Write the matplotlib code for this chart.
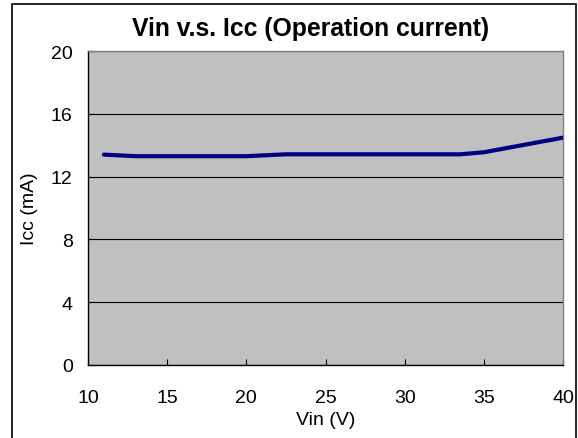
import matplotlib
matplotlib.use("Agg")
import matplotlib.pyplot as plt
from matplotlib.patches import Rectangle

vin = [11, 13, 20, 22.5, 33.5, 35, 40]
icc = [13.4, 13.3, 13.3, 13.42, 13.42, 13.55, 14.48]
xticks = [10, 15, 20, 25, 30, 35, 40]
yticks = [0, 4, 8, 12, 16, 20]

plt.rcParams['font.family'] = ['Liberation Sans', 'DejaVu Sans']

W, H = 578, 439
fig = plt.figure(figsize=(W / 100, H / 100), dpi=100)
fig.patch.set_facecolor('white')

# figure border
fig.patches.append(Rectangle((12.5 / W, -0.02), (576 - 12.5) / W, (439 - 5) / H + 0.02,
                             transform=fig.transFigure, fill=False, edgecolor='black',
                             linewidth=1.2, zorder=10))

ax = fig.add_axes([88 / W, 1 - 366 / H, (563 - 88) / W, (366 - 52) / H])
ax.set_facecolor('#C0C0C0')
ax.plot(vin, icc, color='#000080', linewidth=3.0, solid_capstyle='round', zorder=3)

ax.set_xlim(10, 40)
ax.set_ylim(0, 20)
ax.set_xticks(xticks)
ax.set_yticks(yticks)
ax.yaxis.grid(True, color='black', linewidth=0.8)
ax.set_axisbelow(True)

for s in ['top', 'right']:
    ax.spines[s].set_color('#808080')
    ax.spines[s].set_linewidth(1.0)
for s in ['left', 'bottom']:
    ax.spines[s].set_color('black')
    ax.spines[s].set_linewidth(1.0)

ax.tick_params(axis='both', direction='in', length=4, width=0.8, labelsize=14, colors='black')
ax.tick_params(axis='x', pad=17)
ax.tick_params(axis='y', pad=11)

ax.set_xlabel('Vin (V)', fontsize=14, labelpad=4)
ax.set_ylabel('Icc (mA)', fontsize=14)
ax.yaxis.set_label_coords(-(88 - 37.5) / (563 - 88), 0.5)
ax.set_title('Vin v.s. Icc (Operation current)', fontsize=17.8, fontweight='bold',
             pad=11.5, x=(311 - 88) / (563 - 88))

fig.savefig('out.png', dpi=100)
